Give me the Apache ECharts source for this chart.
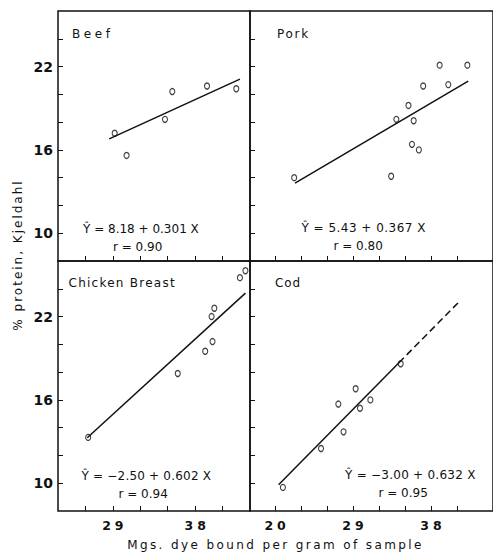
<!DOCTYPE html>
<html>
<head>
<meta charset="utf-8">
<script src="https://cdn.jsdelivr.net/npm/echarts@6/dist/echarts.min.js"></script>
<style>
  html, body { margin: 0; padding: 0; background: #fff; }
  #chart { width: 493px; height: 552px; }
</style>
</head>
<body>
<div id="chart"></div>
<script>
// Dye bound (mg per gram of sample) vs. % protein (Kjeldahl)
const beefDye = [29.2, 30.5, 34.7, 35.5, 39.3, 42.5];
const beefProtein = [17.2, 15.6, 18.2, 20.2, 20.6, 20.4];

const porkDye = [22.2, 33.4, 34.0, 35.4, 36.0, 35.8, 36.6, 37.1, 39.0, 40.0, 42.2];
const porkProtein = [14.0, 14.1, 18.2, 19.2, 18.1, 16.4, 16.0, 20.6, 22.1, 20.7, 22.1];

const chickenDye = [26.3, 36.1, 39.1, 39.9, 39.8, 40.1, 42.9, 43.5];
const chickenProtein = [13.3, 17.9, 19.5, 20.2, 22.0, 22.6, 24.8, 25.3];

const codDye = [20.9, 25.3, 27.3, 27.9, 29.3, 29.8, 31.0, 34.5];
const codProtein = [9.7, 12.5, 15.7, 13.7, 16.8, 15.4, 16.0, 18.6];

// Regression fits: Y = a + b X, drawn over the range of each sample set
const panelNames = ['Beef', 'Pork', 'Chicken Breast', 'Cod'];
const fitIntercept = [8.18, 5.43, -2.50, -3.00];
const fitSlope = [0.301, 0.367, 0.602, 0.632];
const fitR = [0.90, 0.80, 0.94, 0.95];
const fitFrom = [28.6, 22.3, 26.2, 20.4];
const fitTo = [42.9, 42.3, 43.5, 34.3];
const codExtendTo = 41.3;

// Tick marks and labels
const proteinTicks = [10, 12, 14, 16, 18, 20, 22, 24];
const proteinLabels = [10, 16, 22];
const dyeTicksLeft = [26, 29, 32, 35, 38, 41];
const dyeTicksRight = [20, 23, 26, 29, 32, 35, 38, 41];
const dyeLabelsLeft = [29, 38];
const dyeLabelsRight = [20, 29, 38];

const INK = '#111';
const FONT = '"DejaVu Sans"';

const panelDye = [beefDye, porkDye, chickenDye, codDye];
const panelProtein = [beefProtein, porkProtein, chickenProtein, codProtein];

// panel layout: top-left, top-right, bottom-left, bottom-right
const grids = [
  { left: 58, top: 11, width: 192, height: 250 },
  { left: 250, top: 11, width: 257, height: 250 },
  { left: 58, top: 261, width: 192, height: 250 },
  { left: 250, top: 261, width: 257, height: 250 }
].map(g => Object.assign(g, { show: true, borderColor: INK, borderWidth: 1.5, containLabel: false }));

const xAxes = [0, 1, 2, 3].map(i => {
  const right = i % 2 === 1;
  const bottomRow = i >= 2;
  return {
    type: 'value', gridIndex: i,
    min: right ? 17.1 : 23, max: right ? 45.16 : 44,
    axisLine: { show: false },
    splitLine: { show: false },
    axisTick: {
      show: true, inside: true, length: 5,
      lineStyle: { color: INK, width: 1 },
      customValues: right ? dyeTicksRight : dyeTicksLeft
    },
    axisLabel: {
      show: bottomRow, margin: 8,
      color: INK, fontFamily: FONT, fontWeight: 'bold', fontSize: 12.5,
      padding: [0, 0, 0, 4],
      customValues: right ? dyeLabelsRight : dyeLabelsLeft
    }
  };
});

const yAxes = [0, 1, 2, 3].map(i => {
  const right = i % 2 === 1;
  return {
    type: 'value', gridIndex: i, min: 8, max: 26,
    axisLine: { show: false },
    splitLine: { show: false },
    axisTick: {
      show: true, inside: true, length: 5,
      lineStyle: { color: INK, width: 1 },
      customValues: proteinTicks
    },
    axisLabel: {
      show: !right, margin: 5,
      color: INK, fontFamily: FONT, fontWeight: 'bold', fontSize: 14,
      customValues: proteinLabels
    }
  };
});

function fitY(i, x) { return fitIntercept[i] + fitSlope[i] * x; }

const series = [];
for (let i = 0; i < 4; i++) {
  series.push({
    type: 'line', xAxisIndex: i, yAxisIndex: i,
    data: [[fitFrom[i], fitY(i, fitFrom[i])], [fitTo[i], fitY(i, fitTo[i])]],
    showSymbol: false, silent: true,
    lineStyle: { color: INK, width: 1.5 }
  });
  series.push({
    type: 'scatter', xAxisIndex: i, yAxisIndex: i,
    data: panelDye[i].map((d, k) => [d, panelProtein[i][k]]),
    symbol: 'circle', symbolSize: [5, 6], clip: false, silent: true,
    itemStyle: { color: 'transparent', borderColor: INK, borderWidth: 1.2 }
  });
}
// extrapolated part of the cod fit
series.push({
  type: 'line', xAxisIndex: 3, yAxisIndex: 3,
  data: [[fitTo[3], fitY(3, fitTo[3])], [codExtendTo, fitY(3, codExtendTo)]],
  showSymbol: false, silent: true,
  lineStyle: { color: INK, width: 1.5, type: [7, 4] }
});

// "Ŷ" is the estimated protein
function eqText(i) {
  const a = fitIntercept[i];
  const sign = a < 0 ? '\u2212' : '';
  return '\u0176 = ' + sign + Math.abs(a).toFixed(2) + ' + ' + fitSlope[i].toFixed(3) + ' X';
}
function rText(i) { return 'r = ' + fitR[i].toFixed(2); }

// annotation anchors (pixels) per panel
const namePos = [[72, 33.5], [277, 33.5], [68.5, 283], [275, 283]];
const eqPos = [[83, 228.5], [301.5, 228], [81.5, 476], [345, 475]];
const rPos = [[113, 246.5], [333.5, 246], [118.5, 494], [378.5, 493]];

const graphic = [];
function label(text, x, y, size, extra) {
  graphic.push({
    type: 'text', silent: true,
    style: Object.assign({
      text: text, x: x, y: y, fill: INK,
      font: size + 'px ' + FONT,
      textAlign: 'left', textVerticalAlign: 'middle'
    }, extra || {})
  });
}
for (let i = 0; i < 4; i++) {
  label(panelNames[i], namePos[i][0], namePos[i][1], 12);
  label(eqText(i), eqPos[i][0], eqPos[i][1], 12);
  label(rText(i), rPos[i][0], rPos[i][1], 12);
}
label('Mgs. dye bound per gram of sample', 275.5, 544.5, 12, { textAlign: 'center' });
graphic.push({
  type: 'text', silent: true, x: 18, y: 255, rotation: Math.PI / 2,
  style: {
    text: '% protein, Kjeldahl', x: 0, y: 0, fill: INK,
    font: '12px ' + FONT, textAlign: 'center', textVerticalAlign: 'middle'
  }
});

// hand-lettered spacing for the text strings
const letterSpacing = {
  'Beef': 3.6, 'Pork': 1.7, 'Chicken Breast': 1.25, 'Cod': 0.9,
  '29': 4, '38': 4, '20': 4,
  'Mgs. dye bound per gram of sample': 2.4,
  '% protein, Kjeldahl': 2
};
letterSpacing[eqText(1)] = 0.48;
letterSpacing[eqText(2)] = 0.2;
letterSpacing[eqText(3)] = 0.25;

const chartDom = document.getElementById('chart');
const chart = echarts.init(chartDom, null, { renderer: 'svg', width: 493, height: 552 });
chart.setOption({
  animation: false,
  backgroundColor: '#fff',
  grid: grids,
  xAxis: xAxes,
  yAxis: yAxes,
  series: series,
  graphic: graphic
});

function applySpacing() {
  chartDom.querySelectorAll('text').forEach(function (t) {
    const s = letterSpacing[t.textContent];
    if (s) t.style.letterSpacing = s + 'px';
  });
}
applySpacing();
chart.on('finished', applySpacing);
requestAnimationFrame(applySpacing);
setTimeout(applySpacing, 50);
</script>
</body>
</html>
